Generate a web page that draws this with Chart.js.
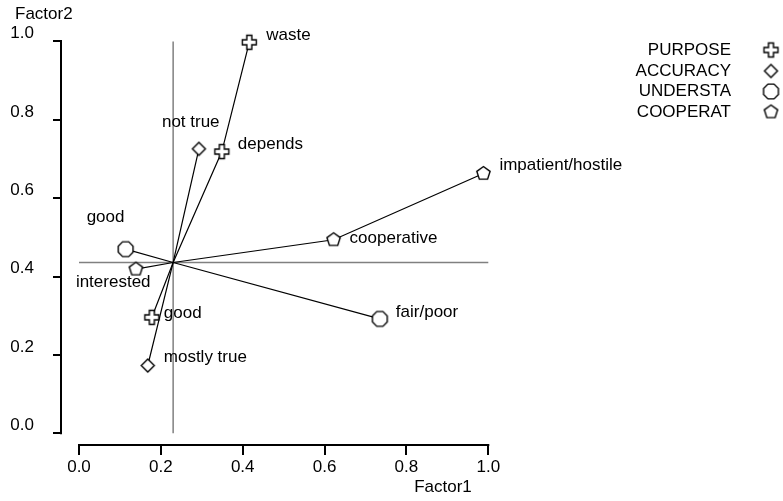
<!DOCTYPE html>
<html><head><meta charset="utf-8">
<script src="https://cdn.jsdelivr.net/npm/chart.js@4"></script>
<style>html,body{margin:0;padding:0;background:#fff}</style>
</head><body>
<canvas id="c" width="783" height="501"></canvas>
<script>
// ---- data ----
const seriesNames = ['PURPOSE', 'ACCURACY', 'UNDERSTA', 'COOPERAT'];
const purposeLabels = ['good', 'depends', 'waste'];
const purposeX = [0.178, 0.349, 0.416];
const purposeY = [0.296, 0.719, 0.998];
const accuracyLabels = ['mostly true', 'not true'];
const accuracyX = [0.168, 0.293];
const accuracyY = [0.173, 0.726];
const understaLabels = ['good', 'fair/poor'];
const understaX = [0.114, 0.735];
const understaY = [0.470, 0.292];
const cooperatLabels = ['interested', 'cooperative', 'impatient/hostile'];
const cooperatX = [0.139, 0.622, 0.988];
const cooperatY = [0.419, 0.494, 0.663];
const centroidX = 0.230;
const centroidY = 0.436;
const xTicks = [0, 0.2, 0.4, 0.6, 0.8, 1.0];
const yTicks = [0, 0.2, 0.4, 0.6, 0.8, 1.0];
const xTitle = 'Factor1';
const yTitle = 'Factor2';

// ---- styling (label placement offsets in px, not data) ----
const labelOffsets = [
  [[12, -4], [16, -7], [17, -7]],
  [[16, -8], [-37, -27]],
  [[-39, -32], [16, -7]],
  [[-60, 13], [16, -1], [16, -8]]
];
const FONT = "17px 'Liberation Sans', Arial, sans-serif";

function makeMarker(kind) {
  const s = 21, c = document.createElement('canvas');
  c.width = s; c.height = s;
  const g = c.getContext('2d');
  g.translate(s / 2, s / 2);
  g.lineWidth = 1.4; g.strokeStyle = '#000'; g.fillStyle = '#fff';
  g.beginPath();
  let pts = [];
  if (kind === 'cross') {
    const a = 7, w = 2.5;
    pts = [[-w,-a],[w,-a],[w,-w],[a,-w],[a,w],[w,w],[w,a],[-w,a],[-w,w],[-a,w],[-a,-w],[-w,-w]];
  } else if (kind === 'diamond') {
    const r = 6.5; pts = [[0,-r],[r,0],[0,r],[-r,0]];
  } else if (kind === 'octagon') {
    const r = 8;
    for (let k = 0; k < 8; k++) { const t = (22.5 + 45 * k) * Math.PI / 180; pts.push([r*Math.cos(t), r*Math.sin(t)]); }
  } else {
    const r = 7;
    for (let k = 0; k < 5; k++) { const t = (-90 + 72 * k) * Math.PI / 180; pts.push([r*Math.cos(t), r*Math.sin(t)]); }
  }
  pts.forEach((p, i) => i ? g.lineTo(p[0], p[1]) : g.moveTo(p[0], p[1]));
  g.closePath(); g.fill(); g.stroke();
  return c;
}
const markers = [makeMarker('cross'), makeMarker('diamond'), makeMarker('octagon'), makeMarker('pentagon')];

const seriesX = [purposeX, accuracyX, understaX, cooperatX];
const seriesY = [purposeY, accuracyY, understaY, cooperatY];
const seriesLabels = [purposeLabels, accuracyLabels, understaLabels, cooperatLabels];
const centroid = { x: centroidX, y: centroidY };

const pointSets = seriesX.map((xs, s) => xs.map((x, i) => ({ x, y: seriesY[s][i] })));
const pathSets = pointSets.map(p => [p[0], centroid, ...p.slice(1)]);

const datasets = [];
pointSets.forEach((pts, s) => datasets.push({
  type: 'scatter', label: seriesNames[s], data: pts, order: 0,
  pointStyle: markers[s], pointRadius: 7, showLine: false, clip: false
}));
pathSets.forEach((pts, s) => datasets.push({
  type: 'scatter', label: seriesNames[s] + ' path', data: pts, order: 1,
  showLine: true, borderColor: '#000', borderWidth: 1.2, pointRadius: 0, tension: 0, clip: false
}));
datasets.push({
  type: 'scatter', label: 'ref v', data: [{ x: centroidX, y: 0 }, { x: centroidX, y: 1 }], order: 2,
  showLine: true, borderColor: '#808080', borderWidth: 1.5, pointRadius: 0, clip: false
});
datasets.push({
  type: 'scatter', label: 'ref h', data: [{ x: 0, y: centroidY }, { x: 1, y: centroidY }], order: 2,
  showLine: true, borderColor: '#808080', borderWidth: 1.5, pointRadius: 0, clip: false
});

const decor = {
  id: 'decor',
  afterDraw(chart) {
    const g = chart.ctx, xs = chart.scales.x, ys = chart.scales.y, ca = chart.chartArea;
    g.save();
    g.strokeStyle = '#000'; g.lineWidth = 2;
    g.beginPath();
    g.moveTo(ca.left - 1, ys.getPixelForValue(yTicks[0]) + 1);
    g.lineTo(ca.left - 1, ys.getPixelForValue(yTicks[yTicks.length - 1]) - 1);
    g.moveTo(xs.getPixelForValue(xTicks[0]) - 1, ca.bottom + 1);
    g.lineTo(xs.getPixelForValue(xTicks[xTicks.length - 1]) + 1, ca.bottom + 1);
    g.stroke();
    g.font = FONT; g.fillStyle = '#000'; g.textBaseline = 'middle'; g.textAlign = 'left';
    // point labels
    seriesLabels.forEach((labs, s) => labs.forEach((t, i) => {
      const px = xs.getPixelForValue(seriesX[s][i]), py = ys.getPixelForValue(seriesY[s][i]);
      const o = labelOffsets[s][i];
      g.fillText(t, px + o[0], py + o[1]);
    }));
    // axis titles
    g.fillText(yTitle, 15, 14);
    g.textAlign = 'center';
    g.fillText(xTitle, 443, 487);
    // legend
    g.textAlign = 'right';
    const rows = [50, 71, 91.5, 112];
    seriesNames.forEach((n, s) => {
      g.fillText(n, 731, rows[s]);
      const m = markers[s];
      g.drawImage(m, 771 - m.width / 2, rows[s] - m.height / 2);
    });
    g.restore();
  }
};

new Chart(document.getElementById('c'), {
  data: { datasets },
  options: {
    responsive: false, animation: false, devicePixelRatio: 1,
    layout: { padding: { top: 30, right: 283, bottom: 0, left: 0 } },
    plugins: { legend: { display: false }, tooltip: { enabled: false }, title: { display: false } },
    scales: {
      x: {
        type: 'linear', position: 'bottom', min: -0.04153, max: 1.02859,
        afterBuildTicks: s => { s.ticks = xTicks.map(v => ({ value: v })); },
        afterFit: s => { s.height = 57; },
        ticks: { callback: v => Number(v).toFixed(1), padding: 2, maxRotation: 0, autoSkip: false,
                 color: '#000', font: { family: "'Liberation Sans', Arial, sans-serif", size: 17 } },
        grid: { display: true, drawOnChartArea: false, drawTicks: true, tickLength: 11, color: '#000', lineWidth: 2 },
        border: { display: false }
      },
      y: {
        type: 'linear', position: 'left', min: -0.02731, max: 1.02935,
        afterBuildTicks: s => { s.ticks = yTicks.map(v => ({ value: v })); },
        afterFit: s => { s.width = 62; },
        ticks: { callback: v => Number(v).toFixed(1), padding: 19, labelOffset: -8, autoSkip: false,
                 color: '#000', font: { family: "'Liberation Sans', Arial, sans-serif", size: 17 } },
        grid: { display: true, drawOnChartArea: false, drawTicks: true, tickLength: 9, color: '#000', lineWidth: 2 },
        border: { display: false }
      }
    }
  },
  plugins: [decor]
});
</script>
</body></html>
